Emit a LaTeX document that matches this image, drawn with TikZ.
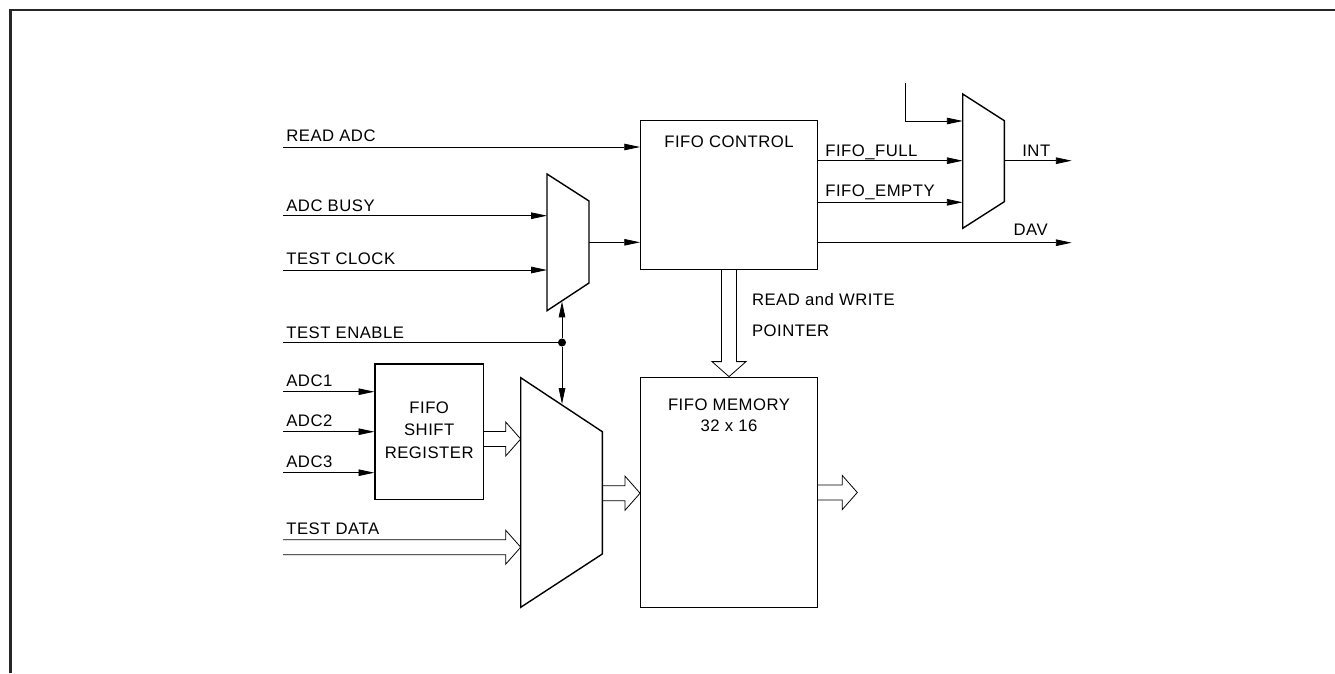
\documentclass[tikz,border=0pt]{standalone}
\usepackage{fontspec}
\setmainfont[LetterSpace=3]{Liberation Sans}
\usetikzlibrary{arrows.meta,calc}

\newcommand{\hbus}[2]{%
  \draw[bus] ($(#1)+(0,-7.5)$) -- ($(#2)+(-15,-7.5)$) -- ($(#2)+(-15,-17)$) -- (#2)
    -- ($(#2)+(-15,17)$) -- ($(#2)+(-15,7.5)$) -- ($(#1)+(0,7.5)$);}
\newcommand{\vbus}[2]{%
  \draw[bus] ($(#1)+(-7.5,0)$) -- ($(#2)+(-7.5,-15)$) -- ($(#2)+(-17,-15)$) -- (#2)
    -- ($(#2)+(17,-15)$) -- ($(#2)+(7.5,-15)$) -- ($(#1)+(7.5,0)$);}

\begin{document}
\begin{tikzpicture}[x=0.02cm,y=-0.02cm,font=\fontsize{9.5}{12}\selectfont,
  blk/.style={draw,line width=0.8pt,inner sep=0pt},
  mux/.style={line width=0.8pt,line join=miter},
  sig/.style={line width=0.45pt,-{Triangle[length=9pt,width=3.7pt]}},
  wire/.style={line width=0.45pt},
  bus/.style={line width=0.45pt,line join=miter},
  lbl/.style={anchor=base west,inner sep=0pt},
  ctr/.style={anchor=base,inner sep=0pt}]
  \useasboundingbox (0,0) rectangle (1335,673);
  \draw[line width=1.6pt,black!85] (10.5,673) -- (10.5,10) -- (1335,10);

  \node[blk,minimum width=3.53cm,minimum height=2.972cm] (ctrl) at (729,195) {};
  \node[ctr] (ctrlt) at (729,147.5) {FIFO CONTROL};
  \node[blk,minimum width=3.53cm,minimum height=4.608cm] (mem) at (729,492.5) {};
  \node[ctr] (memt1) at (729,410) {FIFO MEMORY};
  \node[ctr] (memt2) at (729,431.7) {32 x 16};
  \node[blk,minimum width=2.166cm,minimum height=2.706cm] (sreg) at (429.2,431.7) {};
  \node[ctr] (sregt1) at (429.2,413.3) {FIFO};
  \node[ctr] (sregt2) at (429.2,435) {SHIFT};
  \node[ctr] (sregt3) at (429.2,458.3) {REGISTER};

  \coordinate (m1a) at (547,174);   \coordinate (m1b) at (589,201);
  \coordinate (m1c) at (589,283);   \coordinate (m1d) at (547,310.7);
  \draw[mux] (m1a) -- (m1b) -- (m1c) -- (m1d) -- cycle;
  \coordinate (m2a) at (520.7,377.7); \coordinate (m2b) at (602.3,431.7);
  \coordinate (m2c) at (602.3,554);   \coordinate (m2d) at (520.7,607.3);
  \draw[mux] (m2a) -- (m2b) -- (m2c) -- (m2d) -- cycle;
  \coordinate (m3a) at (962.7,94);    \coordinate (m3b) at (1004.3,120.7);
  \coordinate (m3c) at (1004.3,201.7); \coordinate (m3d) at (962.7,228.3);
  \draw[mux] (m3a) -- (m3b) -- (m3c) -- (m3d) -- cycle;

  \coordinate (rdadc) at (283,147);
  \draw[sig] (rdadc) -- (rdadc -| ctrl.west);
  \node[lbl] (rdadcl) at (286,141) {READ ADC};
  \coordinate (busy) at (283,215.7);
  \draw[sig] (busy) -- (busy -| m1a);
  \node[lbl] (busyl) at (286,211) {ADC BUSY};
  \coordinate (tclk) at (283,270);
  \draw[sig] (tclk) -- (tclk -| m1a);
  \node[lbl] (tclkl) at (286,264) {TEST CLOCK};
  \coordinate (m1o) at (589,242.3);
  \draw[sig] (m1o) -- (m1o -| ctrl.west);

  \coordinate (ten) at (283,342.5);
  \node[circle,fill,inner sep=0pt,minimum size=4.6pt] (tdot) at (562,342.5) {};
  \draw[wire] (ten) -- (tdot.center);
  \node[lbl] (tenl) at (286,338) {TEST ENABLE};
  \coordinate (m1s) at (562,301.5);
  \coordinate (m2s) at (562,404);
  \draw[sig] (tdot) -- (m1s);
  \draw[sig] (tdot) -- (m2s);

  \coordinate (adc1) at (283,391.7);
  \draw[sig] (adc1) -- (adc1 -| sreg.west);
  \node[lbl] (adc1l) at (286,386.5) {ADC1};
  \coordinate (adc2) at (283,431.7);
  \draw[sig] (adc2) -- (adc2 -| sreg.west);
  \node[lbl] (adc2l) at (286,426.5) {ADC2};
  \coordinate (adc3) at (283,472.7);
  \draw[sig] (adc3) -- (adc3 -| sreg.west);
  \node[lbl] (adc3l) at (286,467.5) {ADC3};

  \coordinate (sro) at ($(sreg.east)+(0,7.3)$);
  \coordinate (m2i1) at (520.7,439);
  \hbus{sro}{m2i1}
  \coordinate (tdat) at (283,547.2);
  \coordinate (m2i2) at (520.7,547.2);
  \hbus{tdat}{m2i2}
  \node[lbl] (tdatl) at (286,534) {TEST DATA};
  \coordinate (m2o) at (602.3,493.2);
  \coordinate (memi) at (m2o -| mem.west);
  \hbus{m2o}{memi}
  \coordinate (dout) at (857.3,492.5);
  \hbus{mem.east}{dout}

  \vbus{ctrl.south}{mem.north}
  \node[lbl] (ptrl1) at (751.7,305) {READ and WRITE};
  \node[lbl] (ptrl2) at (751.7,336) {POINTER};

  \coordinate (m3i1) at (962.7,121);
  \coordinate (m3i2) at (962.7,160.7);
  \coordinate (m3i3) at (962.7,202.3);
  \coordinate (m3o) at (1004.3,160.7);
  \coordinate (irq) at (905,83);
  \coordinate (intout) at (1071.7,160.7);
  \coordinate (davout) at (1071.7,242.7);
  \draw[sig] (irq) |- (m3i1);
  \draw[sig] (ctrl.east |- m3i2) -- (m3i2);
  \node[lbl] (fulll) at (825,156) {FIFO\_FULL};
  \draw[sig] (ctrl.east |- m3i3) -- (m3i3);
  \node[lbl] (emptyl) at (825,196.5) {FIFO\_EMPTY};
  \draw[sig] (m3o) -- (intout);
  \node[lbl] (intl) at (1022,156) {INT};
  \draw[sig] (ctrl.east |- davout) -- (davout);
  \node[anchor=base east,inner sep=0pt] (davl) at (1048,235.7) {DAV};
\end{tikzpicture}
\end{document}
